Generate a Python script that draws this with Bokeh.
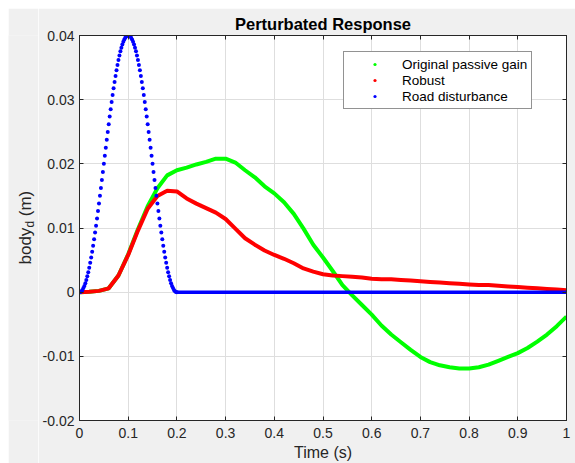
import numpy as np
from bokeh.plotting import figure
from bokeh.layouts import column, row
from bokeh.models import (Range1d, FixedTicker, CustomJSTickFormatter, LinearAxis,
                          Label, Legend, LegendItem, CustomLabelingPolicy)
from bokeh.embed import file_html
from bokeh.resources import INLINE

# ---------------- data ----------------
x_ticks = [0, 0.1, 0.2, 0.3, 0.4, 0.5, 0.6, 0.7, 0.8, 0.9, 1.0]
y_ticks = [-0.02, -0.01, 0, 0.01, 0.02, 0.03, 0.04]

resp_time = [0.00, 0.02, 0.04, 0.06, 0.08, 0.10, 0.12, 0.14, 0.16, 0.18,
             0.20, 0.22, 0.24, 0.26, 0.28, 0.30, 0.32, 0.34, 0.36, 0.38,
             0.40, 0.42, 0.44, 0.46, 0.48, 0.50, 0.52, 0.54, 0.56, 0.58,
             0.60, 0.62, 0.64, 0.66, 0.68, 0.70, 0.72, 0.74, 0.76, 0.78,
             0.80, 0.82, 0.84, 0.86, 0.88, 0.90, 0.92, 0.94, 0.96, 0.98, 1.00]

passive = [0.0, 0.00005, 0.0002, 0.0006, 0.0026, 0.0059, 0.0098, 0.0134, 0.0162, 0.0182,
           0.0190, 0.0194, 0.0199, 0.0203, 0.0208, 0.0208, 0.0202, 0.0190, 0.0179, 0.0165,
           0.0154, 0.0140, 0.0122, 0.0099, 0.0074, 0.0054, 0.0033, 0.0011, -0.0005, -0.0020,
           -0.0035, -0.0052, -0.0066, -0.0078, -0.0090, -0.0101, -0.0109, -0.0114, -0.0117, -0.0119,
           -0.0119, -0.0117, -0.0113, -0.0107, -0.0101, -0.0095, -0.0087, -0.0077, -0.0066, -0.0053,
           -0.0038]

robust = [0.0, 0.00005, 0.0002, 0.0006, 0.0026, 0.0058, 0.0096, 0.0130, 0.0150, 0.0158,
          0.0157, 0.0146, 0.0138, 0.0131, 0.0124, 0.0114, 0.0099, 0.0084, 0.0074, 0.0065,
          0.0058, 0.0052, 0.0045, 0.0037, 0.0032, 0.0028, 0.0026, 0.0025, 0.0024, 0.0023,
          0.0021, 0.0020, 0.0020, 0.0019, 0.0018, 0.0017, 0.0016, 0.0015, 0.0014, 0.0013,
          0.0012, 0.0011, 0.0011, 0.0010, 0.0009, 0.0008, 0.0007, 0.0006, 0.0005, 0.0004,
          0.0003]

# road disturbance samples (every 0.002 s over the bump)
road_bump = [0.0, 0.00004, 0.00016, 0.00035, 0.00063, 0.00098, 0.00140, 0.00190, 0.00247, 0.00311,
             0.00382, 0.00459, 0.00542, 0.00631, 0.00725, 0.00824, 0.00928, 0.01037, 0.01148, 0.01264,
             0.01382, 0.01503, 0.01625, 0.01749, 0.01874, 0.02000, 0.02126, 0.02251, 0.02375, 0.02497,
             0.02618, 0.02736, 0.02852, 0.02964, 0.03072, 0.03176, 0.03275, 0.03369, 0.03458, 0.03541,
             0.03618, 0.03689, 0.03753, 0.03810, 0.03860, 0.03902, 0.03937, 0.03965, 0.03984, 0.03996,
             0.04000,
             0.03996, 0.03984, 0.03965, 0.03937, 0.03902, 0.03860, 0.03810, 0.03753, 0.03689, 0.03618,
             0.03541, 0.03458, 0.03369, 0.03275, 0.03176, 0.03072, 0.02964, 0.02852, 0.02736, 0.02618,
             0.02497, 0.02375, 0.02251, 0.02126, 0.02000, 0.01874, 0.01749, 0.01625, 0.01503, 0.01382,
             0.01264, 0.01148, 0.01037, 0.00928, 0.00824, 0.00725, 0.00631, 0.00542, 0.00459, 0.00382,
             0.00311, 0.00247, 0.00190, 0.00140, 0.00098, 0.00063, 0.00035, 0.00016, 0.00004, 0.0]
road_bump_time = list(np.round(np.arange(len(road_bump)) * 0.002, 3))
road_tail_time = [0.2, 1.0]
road_tail = [0.0, 0.0]

series_labels = ["Original passive gain", "Robust", "Road disturbance"]
series_colors = ["#00ff00", "#ff0000", "#0000ff"]

title_text = "Perturbated Response"
xlabel_text = "Time (s)"
ylabel_parts = ["body", "d", "(m)"]

# ---------------- style ----------------
FONT = "Liberation Sans"
DARK = "#262626"
GRAY = "#f0f0f0"


def blank_fig(w, h, color):
    f = figure(width=w, height=h, output_backend="svg", toolbar_location=None,
               x_axis_location=None, y_axis_location=None,
               min_border=0, min_border_left=0, min_border_right=0,
               min_border_top=0, min_border_bottom=0,
               background_fill_color=color, border_fill_color=color,
               outline_line_color=None, x_range=Range1d(0, 1), y_range=Range1d(0, 1))
    f.xgrid.visible = False
    f.ygrid.visible = False
    return f


# white top band (page y 0..8) and white left column (page x 0..8)
band = blank_fig(575, 8, "white")
white_col = blank_fig(8, 455, "white")

# ---------------- y-label strip (page x 8..38); its frame is aligned with the plot frame
left = blank_fig(30, 455, GRAY)
ang = np.pi / 2
left.add_layout(Label(x=17, y=156, x_units="screen", y_units="screen", angle=ang,
                      text=ylabel_parts[0], text_font=FONT, text_font_size="17px",
                      text_color=DARK, text_align="left", text_baseline="alphabetic"))
left.add_layout(Label(x=21, y=192.9, x_units="screen", y_units="screen", angle=ang,
                      text=ylabel_parts[1], text_font=FONT, text_font_size="12px",
                      text_color=DARK, text_align="left", text_baseline="alphabetic"))
left.add_layout(Label(x=17, y=204.3, x_units="screen", y_units="screen", angle=ang,
                      text=ylabel_parts[2], text_font=FONT, text_font_size="17px",
                      text_color=DARK, text_align="left", text_baseline="alphabetic"))

# ---------------- main plot (page x 38..575, y 8..463) ----------------
p = figure(width=537, height=455, output_backend="svg", toolbar_location=None,
           x_range=Range1d(0, 1), y_range=Range1d(-0.02, 0.04),
           min_border_left=41, min_border_right=9, min_border_top=27, min_border_bottom=42,
           background_fill_color="white", border_fill_color=GRAY,
           outline_line_color=DARK, outline_line_width=1)

p.title.text = title_text
p.title.align = "center"
p.title.text_font = FONT
p.title.text_font_size = "16.5px"
p.title.text_font_style = "bold"
p.title.text_color = "black"
p.title.standoff = 5

fmt = CustomJSTickFormatter(code="return String(Math.round(tick*1000)/1000);")
for ax, ticks in ((p.xaxis[0], x_ticks), (p.yaxis[0], y_ticks)):
    ax.ticker = FixedTicker(ticks=ticks)
    ax.formatter = fmt
    ax.major_tick_in = 4
    ax.major_tick_out = 0
    ax.minor_tick_line_color = None
    ax.axis_line_color = DARK
    ax.major_tick_line_color = DARK
    ax.major_label_text_color = DARK
    ax.major_label_text_font = FONT
    ax.major_label_text_font_size = "14px"
p.xaxis[0].major_label_standoff = 7
p.yaxis[0].major_label_standoff = 5

p.xaxis[0].axis_label = xlabel_text
p.xaxis[0].axis_label_text_font = FONT
p.xaxis[0].axis_label_text_font_size = "16px"
p.xaxis[0].axis_label_text_font_style = "normal"
p.xaxis[0].axis_label_text_color = DARK
p.xaxis[0].axis_label_standoff = 3

# box ticks on the top and right edges (no labels)
no_labels = CustomLabelingPolicy(code="for (const i of [...indices]) { indices.unset(i) }")
for ticks, side in ((x_ticks, "above"), (y_ticks, "right")):
    ax = LinearAxis(ticker=FixedTicker(ticks=ticks), major_tick_in=4, major_tick_out=0,
                    minor_tick_line_color=None, axis_line_color=DARK,
                    major_tick_line_color=DARK, major_label_text_font_size="0px",
                    major_label_standoff=0, major_label_policy=no_labels)
    p.add_layout(ax, side)

p.xgrid.ticker = FixedTicker(ticks=x_ticks)
p.ygrid.ticker = FixedTicker(ticks=y_ticks)
p.grid.grid_line_color = "#dedede"
p.grid.grid_line_width = 1

p.line(resp_time, passive, line_color=series_colors[0], line_width=4)
p.line(resp_time, robust, line_color=series_colors[1], line_width=4)
p.line(road_tail_time, road_tail, line_color=series_colors[2], line_width=3.5)
p.scatter(road_bump_time, road_bump, marker="circle", size=4,
          fill_color=series_colors[2], line_color=None)

# legend proxies (dot markers, not drawn in the plot area)
items = []
for lab, col in zip(series_labels, series_colors):
    r = p.scatter(x=[np.nan], y=[np.nan], marker="circle", size=4,
                  fill_color=col, line_color=None)
    items.append(LegendItem(label=lab, renderers=[r]))

legend = Legend(items=items, location=(264, 311), margin=0, padding=4, spacing=0,
                glyph_width=53, glyph_height=8, label_height=16, label_standoff=1,
                label_text_font=FONT, label_text_font_size="13.5px", label_text_color="black",
                border_line_color=DARK, border_line_width=1, background_fill_color="white",
                background_fill_alpha=1.0)
p.add_layout(legend, "center")

layout = column(band, row(white_col, left, p, spacing=0), spacing=0)

open("out.html", "w").write(file_html(layout, INLINE))
